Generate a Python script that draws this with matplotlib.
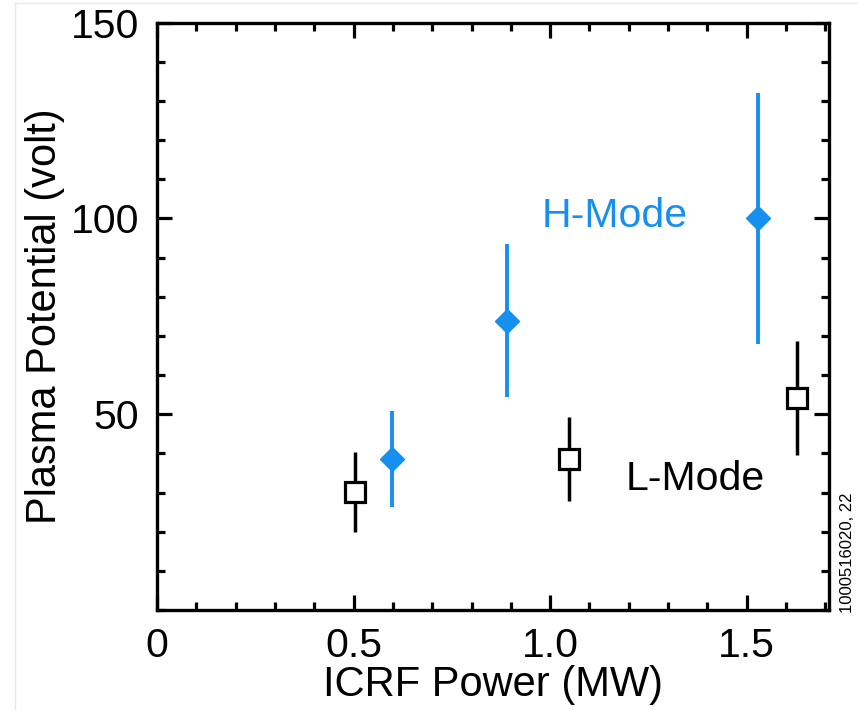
import matplotlib
matplotlib.use("Agg")
import matplotlib.pyplot as plt
from matplotlib.ticker import MultipleLocator
from matplotlib.lines import Line2D

plt.rcParams['font.family'] = ['Liberation Sans', 'DejaVu Sans']

# Data
h_power = [0.598, 0.890, 1.528]
h_pot = [38.5, 73.9, 100.0]
h_err = [12.2, 19.5, 32.0]

l_power = [0.504, 1.049, 1.628]
l_pot = [30.2, 38.5, 54.2]
l_err = [10.2, 10.7, 14.5]

xticks = [0, 0.5, 1.0, 1.5]
xticklabels = ["0", "0.5", "1.0", "1.5"]
yticks = [50, 100, 150]
yticklabels = ["50", "100", "150"]

blue = '#1590EE'

fig = plt.figure(figsize=(8.58, 7.10), dpi=100)
ax = fig.add_axes([157/858, 100/710, (828.5-157)/858, (610-22.7)/710])

ax.errorbar(h_power, h_pot, yerr=h_err, fmt='D', color=blue, ecolor=blue,
            elinewidth=2.8, capsize=0, markersize=12.5, mfc=blue, mec=blue,
            mew=1, zorder=3)
ax.errorbar(l_power, l_pot, yerr=l_err, fmt='s', color='black', ecolor='black',
            elinewidth=2.5, capsize=0, markersize=14.4, mfc='white', mec='black',
            mew=2.3, zorder=3)

ax.text(0.979, 97.9, "H-Mode", color=blue, fontsize=29.5, ha='left', va='baseline')
ax.text(1.193, 30.6, "L-Mode", color='black', fontsize=29.5, ha='left', va='baseline')

ax.set_xlim(0, 1.708)
ax.set_ylim(0, 150)
ax.set_xticks(xticks)
ax.set_xticklabels(xticklabels)
ax.set_yticks(yticks)
ax.set_yticklabels(yticklabels)
ax.xaxis.set_minor_locator(MultipleLocator(0.1))
ax.yaxis.set_minor_locator(MultipleLocator(10))

ax.tick_params(which='both', direction='in', top=True, right=True, width=2.3,
               labelsize=29.5)
ax.tick_params(which='major', length=10.8)
ax.tick_params(which='minor', length=5.8)
ax.tick_params(axis='y', which='major', pad=13)
ax.tick_params(axis='x', which='major', pad=12)
for s in ax.spines.values():
    s.set_linewidth(2.4)

ax.set_xlabel("ICRF Power (MW)", fontsize=30, labelpad=0)
ax.set_ylabel("Plasma Potential (volt)", fontsize=30, labelpad=4)

fig.text(848/858, (710-613)/710, "1000516020, 22", rotation=90, fontsize=12,
         ha='center', va='bottom')

# faint frame lines of the original picture
fig.add_artist(Line2D([15/858, 15/858], [0, 1-3/710], color='#e8e8e8', lw=1))
fig.add_artist(Line2D([15/858, 1], [1-3/710, 1-3/710], color='#e8e8e8', lw=1))

fig.savefig("out.png", dpi=100)
